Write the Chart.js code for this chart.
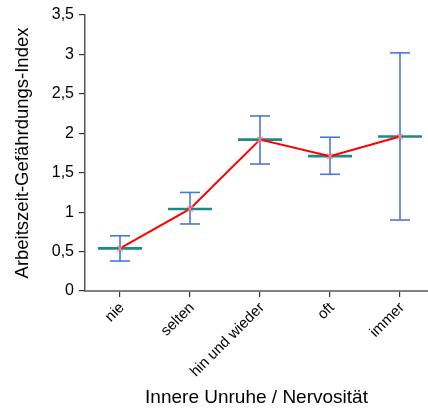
<!DOCTYPE html>
<html><head><meta charset="utf-8">
<script src="https://cdn.jsdelivr.net/npm/chart.js@4/dist/chart.umd.min.js"></script>
<style>html,body{margin:0;padding:0;background:#fff}#wrap{width:428px;height:411px;position:relative}</style>
</head><body><div id="wrap"><canvas id="c"></canvas></div>
<script>
const categories = ['nie', 'selten', 'hin und wieder', 'oft', 'immer'];
const means = [0.54, 1.04, 1.92, 1.71, 1.96];
const lower = [0.38, 0.85, 1.61, 1.48, 0.90];
const upper = [0.70, 1.25, 2.22, 1.95, 3.02];
const yTickValues = [0, 0.5, 1, 1.5, 2, 2.5, 3, 3.5];

const FONT = "'Liberation Sans', Arial, sans-serif";
const idx = categories.map((_, i) => i);

const whiskerData = [];
idx.forEach(i => { whiskerData.push({x: i, y: lower[i]}, {x: i, y: upper[i]}, {x: i, y: null}); });
const capData = [];
idx.forEach(i => { capData.push({x: i, y: lower[i]}, {x: i, y: upper[i]}); });

new Chart(document.getElementById('c'), {
  type: 'line',
  data: {
    datasets: [
      { data: whiskerData, borderColor: '#4a78d8', borderWidth: 1.6, pointRadius: 0, spanGaps: false, order: 4 },
      { type: 'scatter', data: capData, pointStyle: 'line', pointRadius: 10, pointHoverRadius: 10,
        borderColor: '#4a78d8', pointBorderWidth: 1.6, borderWidth: 1.6, order: 3 },
      { type: 'scatter', data: idx.map(i => ({x: i, y: means[i]})), pointStyle: 'line', pointRadius: 22, pointHoverRadius: 22,
        borderColor: '#1e8a86', borderWidth: 2.6, pointBorderWidth: 2.6, order: 2 },
      { data: idx.map(i => ({x: i, y: means[i]})), borderColor: '#ff0000', borderWidth: 2, tension: 0,
        pointStyle: 'crossRot', pointRadius: 4, pointBorderColor: '#ff8a8a', pointBorderWidth: 1.2, order: 1 }
    ]
  },
  options: {
    responsive: true, maintainAspectRatio: false, animation: false,
    layout: { autoPadding: false, padding: { left: 12, right: 0, top: 15, bottom: 0 } },
    plugins: { legend: { display: false }, tooltip: { enabled: false } },
    scales: {
      x: {
        type: 'linear', min: -0.5, max: 4.4,
        afterBuildTicks: s => { s.ticks = idx.map(v => ({value: v})); },
        afterFit: s => { s.height = 120; s.paddingRight = 0; s.paddingLeft = 0; },
        grid: { drawOnChartArea: false, drawTicks: true, tickLength: 6, color: '#333', lineWidth: 1.2 },
        border: { color: '#808080', width: 2 },
        ticks: { autoSkip: false, maxRotation: 45, minRotation: 45, padding: 2, labelOffset: 2,
          font: { family: FONT, size: 15 }, color: '#000',
          callback: v => categories[v] },
        title: { display: true, text: 'Innere Unruhe / Nervosität', font: { family: FONT, size: 19 }, color: '#000',
          padding: { top: 4, bottom: 2 } }
      },
      y: {
        min: 0, max: 3.5,
        afterBuildTicks: s => { s.ticks = yTickValues.map(v => ({value: v})); },
        afterFit: s => { s.width = 73; s.paddingTop = 0; s.paddingBottom = 0; },
        grid: { drawOnChartArea: false, drawTicks: true, tickLength: 6, color: '#333', lineWidth: 1.2 },
        border: { color: '#555', width: 1.5 },
        ticks: { padding: 5, font: { family: FONT, size: 16 }, color: '#000',
          callback: v => String(v).replace('.', ',') },
        title: { display: true, text: 'Arbeitszeit-Gefährdungs-Index', font: { family: FONT, size: 18.5 }, color: '#000',
          padding: { top: 0, bottom: 2 } }
      }
    }
  }
});
</script></body></html>
